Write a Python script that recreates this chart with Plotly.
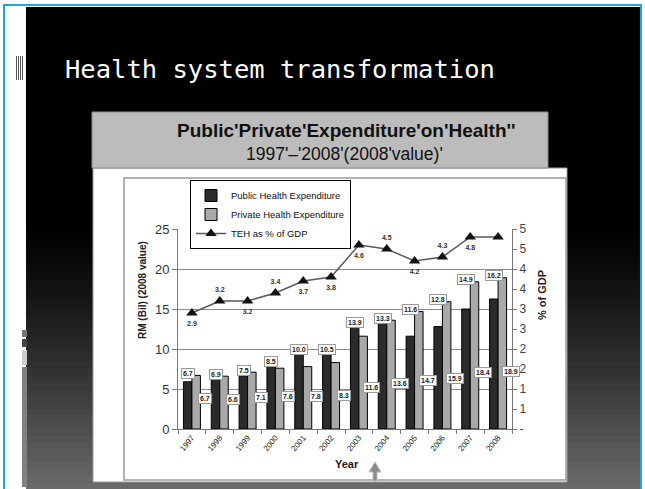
import plotly.graph_objects as go

W, H = 645, 489

# ---------------- data ----------------
years = ["1997", "1998", "1999", "2000", "2001", "2002",
         "2003", "2004", "2005", "2006", "2007", "2008"]
public_values = [5.9, 6.3, 6.6, 8.2, 9.7, 9.7, 13.1, 13.3, 11.6, 12.8, 15.0, 16.25]
private_values = [6.7, 6.6, 7.1, 7.6, 7.8, 8.3, 11.6, 13.6, 14.7, 15.9, 18.4, 18.9]
public_labels = ["6.7", "6.9", "7.5", "8.5", "10.0", "10.5",
                 "13.9", "13.3", "11.6", "12.8", "14.9", "16.2"]
private_labels = ["6.7", "6.6", "7.1", "7.6", "7.8", "8.3",
                  "11.6", "13.6", "14.7", "15.9", "18.4", "18.9"]
teh_gdp = [2.9, 3.2, 3.2, 3.4, 3.7, 3.8, 4.6, 4.5, 4.2, 4.3, 4.8, 4.8]
teh_label_side = ["bottom", "top", "bottom", "top", "bottom", "bottom",
                  "bottom", "top", "bottom", "top", "bottom", "top"]
left_ticks = [0, 5, 10, 15, 20, 25]
right_tickvals = [0, 0.5, 1, 1.5, 2, 2.5, 3, 3.5, 4, 4.5, 5]
right_ticktext = ["-", "1", "1", "2", "2", "3", "3", "4", "4", "5", "5"]

idx = list(range(len(years)))


def X(px):
    return px / W


def Y(py):
    return 1 - py / H


fig = go.Figure()

fig.add_trace(go.Bar(
    x=idx, y=public_values, name="Public Health Expenditure",
    marker=dict(color="#2b2b2b", line=dict(color="#000000", width=1)),
))
fig.add_trace(go.Bar(
    x=idx, y=private_values, name="Private Health Expenditure",
    marker=dict(color="#a9a9a9", line=dict(color="#000000", width=1)),
))
fig.add_trace(go.Scatter(
    x=idx, y=teh_gdp, name="TEH as % of GDP", yaxis="y2",
    mode="lines+markers+text",
    line=dict(color="#5a5a5a", width=1.5),
    marker=dict(symbol="triangle-up", size=10, color="#111111"),
    text=[f"<b>{v:.1f}</b>" for v in teh_gdp],
    textposition=[s + " center" for s in teh_label_side],
    textfont=dict(family="Arial", size=7, color="#333333"),
))

shapes = []
shapes.append(dict(type="rect", xref="paper", yref="paper", x0=0, x1=1, y0=0, y1=1,
                   fillcolor="#ffffff", line=dict(width=0), layer="below"))
nb = 40
g0, g1 = 220, 489
shapes.append(dict(type="rect", xref="paper", yref="paper", x0=X(26), x1=X(641),
                   y0=Y(489), y1=Y(7), fillcolor="#000000", line=dict(width=0), layer="below"))
for i in range(nb):
    t = (i + 0.5) / nb
    c = int(round(108 * t ** 1.3))
    col = f"rgb({c},{c},{c})"
    ya = g0 + (g1 - g0) * i / nb
    yb = g0 + (g1 - g0) * (i + 1) / nb
    shapes.append(dict(type="rect", xref="paper", yref="paper", x0=X(26), x1=X(641),
                       y0=Y(yb + 0.5), y1=Y(ya), fillcolor=col, line=dict(width=0),
                       layer="below"))
shapes.append(dict(type="rect", xref="paper", yref="paper", x0=X(4), x1=X(641),
                   y0=Y(490), y1=Y(5), fillcolor="rgba(0,0,0,0)",
                   line=dict(color="#1ea6e6", width=2), layer="below"))
for k in range(4):
    shapes.append(dict(type="rect", xref="paper", yref="paper", x0=X(16 + 2 * k), x1=X(17 + 2 * k),
                       y0=Y(80), y1=Y(56), fillcolor="#555555", line=dict(width=0), layer="below"))
shapes.append(dict(type="rect", xref="paper", yref="paper", x0=X(22), x1=X(27), y0=Y(337), y1=Y(330),
                   fillcolor="#777777", line=dict(width=0), layer="below"))
shapes.append(dict(type="rect", xref="paper", yref="paper", x0=X(22), x1=X(27), y0=Y(347), y1=Y(339),
                   fillcolor="#444444", line=dict(width=0), layer="below"))
shapes.append(dict(type="rect", xref="paper", yref="paper", x0=X(22), x1=X(27), y0=Y(365), y1=Y(350),
                   fillcolor="#cccccc", line=dict(width=0), layer="below"))
shapes.append(dict(type="rect", xref="paper", yref="paper", x0=X(22), x1=X(27), y0=Y(487), y1=Y(367),
                   fillcolor="#808080", line=dict(width=0), layer="below"))
shapes.append(dict(type="rect", xref="paper", yref="paper", x0=X(93), x1=X(567), y0=Y(482), y1=Y(168),
                   fillcolor="#ffffff", line=dict(color="#9a9a9a", width=1), layer="below"))
shapes.append(dict(type="rect", xref="paper", yref="paper", x0=X(92), x1=X(548), y0=Y(168), y1=Y(112),
                   fillcolor="#bcbcbc", line=dict(color="#8a8a8a", width=1), layer="below"))
shapes.append(dict(type="rect", xref="paper", yref="paper", x0=X(124), x1=X(566), y0=Y(480), y1=Y(178),
                   fillcolor="#ffffff", line=dict(color="#9a9a9a", width=1.5), layer="below"))
shapes.append(dict(type="path", xref="paper", yref="paper",
                   path=(f"M {X(375)} {Y(462)} L {X(369)} {Y(472)} L {X(373)} {Y(472)} "
                         f"L {X(373)} {Y(481)} L {X(377)} {Y(481)} L {X(377)} {Y(472)} "
                         f"L {X(381)} {Y(472)} Z"),
                   fillcolor="#8a8a8a", line=dict(color="#bbbbbb", width=1)))

annotations = []
annotations.append(dict(x=X(280), y=Y(69), xref="paper", yref="paper", showarrow=False,
                        text="Health system transformation", xanchor="center", yanchor="middle",
                        font=dict(family="DejaVu Sans Mono", size=25.5, color="#ffffff")))
annotations.append(dict(x=X(346), y=Y(131), xref="paper", yref="paper", showarrow=False,
                        text="<b>Public'Private'Expenditure'on'Health''</b>",
                        xanchor="center", yanchor="middle",
                        font=dict(family="Liberation Sans", size=19, color="#111111")))
annotations.append(dict(x=X(344), y=Y(154), xref="paper", yref="paper", showarrow=False,
                        text="1997'–'2008'(2008'value)'", xanchor="center", yanchor="middle",
                        font=dict(family="Liberation Sans", size=17.5, color="#111111")))
annotations.append(dict(x=X(142), y=Y(290), xref="paper", yref="paper", showarrow=False,
                        text="<b>RM (Bil) (2008 value)</b>", textangle=-90,
                        xanchor="center", yanchor="middle",
                        font=dict(family="Arial", size=10, color="#222222")))
annotations.append(dict(x=X(542), y=Y(295), xref="paper", yref="paper", showarrow=False,
                        text="<b>% of GDP</b>", textangle=-90,
                        xanchor="center", yanchor="middle",
                        font=dict(family="Arial", size=11, color="#222222")))
annotations.append(dict(x=X(347), y=Y(464), xref="paper", yref="paper", showarrow=False,
                        text="<b>Year</b>", xanchor="center", yanchor="middle",
                        font=dict(family="Arial", size=11, color="#222222")))

box = dict(showarrow=False, bgcolor="#ffffff", bordercolor="#9a9a9a", borderwidth=1, borderpad=1,
           font=dict(family="Arial", size=7, color="#222222"), xref="x", yref="y",
           xanchor="center", yanchor="middle")
for i, pv, qv, lab in zip(idx, public_values, private_values, public_labels):
    annotations.append(dict(box, x=i, y=max(pv, qv), text=f"<b>{lab}</b>", xshift=-4, yshift=2))
for i, qv, lab in zip(idx, private_values, private_labels):
    annotations.append(dict(box, x=i, y=1.9 + 0.28 * qv, text=f"<b>{lab}</b>", xshift=13))

fig.update_layout(
    width=W, height=H, margin=dict(l=0, r=0, t=0, b=0, pad=0, autoexpand=False),
    paper_bgcolor="#ffffff", plot_bgcolor="rgba(0,0,0,0)",
    barmode="group", bargap=0.39, bargroupgap=0,
    showlegend=True,
    legend=dict(x=X(190), y=Y(180), xanchor="left", yanchor="top",
                bgcolor="#ffffff", bordercolor="#000000", borderwidth=1,
                font=dict(family="Arial", size=9.5, color="#111111"),
                tracegroupgap=0, itemwidth=30),
    xaxis=dict(domain=[X(178), X(512)], range=[-0.5, len(years) - 0.5],
               tickvals=idx, ticktext=years, tickangle=-50,
               tickfont=dict(family="Arial", size=8, color="#222222"),
               showline=True, linecolor="#777777", ticks="", showgrid=False,
               zeroline=False, anchor="y", automargin=False),
    xaxis2=dict(domain=[X(178), X(512)], range=[-0.5, len(years) - 0.5],
                overlaying="x", anchor="y", tickvals=[i - 0.5 for i in idx] + [len(years) - 0.5],
                showticklabels=False, ticks="outside", ticklen=4, tickcolor="#777777",
                showgrid=False, zeroline=False, side="bottom"),
    yaxis=dict(domain=[Y(429), Y(229)], range=[0, 25], tickvals=left_ticks,
               showgrid=True, gridcolor="#8c8c8c", gridwidth=1,
               showline=True, linecolor="#777777", ticks="outside", ticklen=5,
               tickcolor="#777777", tickfont=dict(family="Arial", size=13, color="#333333"),
               zeroline=False, automargin=False),
    yaxis2=dict(overlaying="y", side="right", range=[0, 5], anchor="x",
                tickvals=right_tickvals, ticktext=right_ticktext,
                showgrid=False, showline=True, linecolor="#777777", ticks="outside",
                ticklen=4, tickcolor="#777777", automargin=False,
                tickfont=dict(family="Arial", size=12, color="#444444"), zeroline=False),
    shapes=shapes, annotations=annotations,
)
fig.add_trace(go.Scatter(x=[0], y=[0], xaxis="x2", yaxis="y", mode="markers",
                         marker=dict(opacity=0), showlegend=False, hoverinfo="skip"))

fig.write_html("out.html", config={"displayModeBar": False},
               post_script="document.body.style.margin='0';")
